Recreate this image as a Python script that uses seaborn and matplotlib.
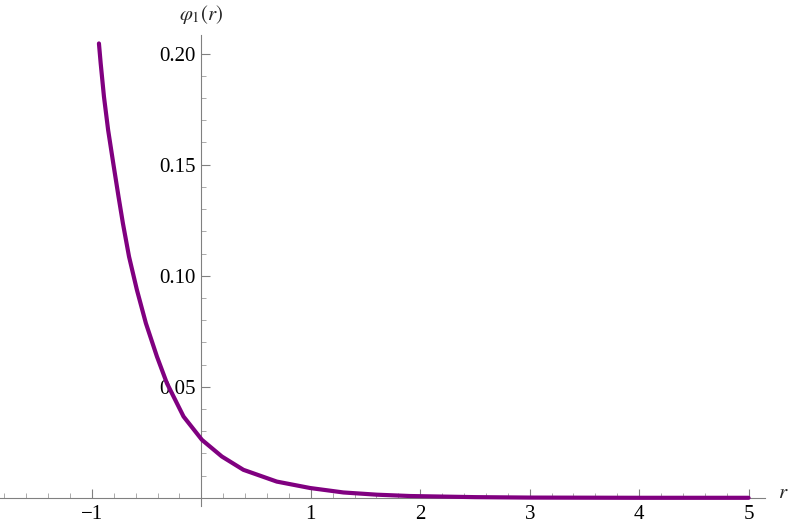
import numpy as np
import pandas as pd
import matplotlib
matplotlib.use('Agg')
import matplotlib.pyplot as plt
import seaborn as sns
from matplotlib.ticker import FixedLocator, MultipleLocator

# values
r_vals = [-0.936, -0.920, -0.890, -0.852, -0.805, -0.757, -0.717, -0.661,
          -0.589, -0.507, -0.406, -0.315, -0.163, 0.005, 0.187, 0.384,
          0.689, 0.994, 1.298, 1.603, 1.907, 2.5, 3.0, 4.0, 5.0]
phi_vals = [0.2046, 0.1956, 0.1806, 0.1656, 0.1506, 0.1356, 0.1236, 0.1086,
            0.0936, 0.0786, 0.0636, 0.0516, 0.0366, 0.0261, 0.0186, 0.0126,
            0.0073, 0.0044, 0.0024, 0.0014, 0.0008, 0.0003, 0.0001, 0.0, 0.0]

x_major = [-1, 1, 2, 3, 4, 5]
x_labels = ['\u22121', '1', '2', '3', '4', '5']
y_major = [0.05, 0.10, 0.15, 0.20]
y_labels = ['0.05', '0.10', '0.15', '0.20']

sns.set_style('white')
plt.rcParams['font.family'] = ['Liberation Serif', 'DejaVu Serif']
plt.rcParams['mathtext.fontset'] = 'stix'

W, H = 790, 524
fig = plt.figure(figsize=(W / 100, H / 100), dpi=100)
ax = fig.add_axes([0, 0, 765 / W, (H - 35) / H])

df = pd.DataFrame({'r': r_vals, 'phi': phi_vals})
sns.lineplot(data=df, x='r', y='phi', ax=ax, sort=False, color='#800080',
             linewidth=3.0, zorder=5)

ax.set_xlim(-1.84, 5.15)
ax.set_ylim(-0.0118, 0.2084)

for s in ['top', 'right']:
    ax.spines[s].set_visible(False)
ax.spines['left'].set_position(('data', 0))
ax.spines['bottom'].set_position(('data', 0))
ax.spines['left'].set_bounds(-0.0036, 0.2084)
for s in ['left', 'bottom']:
    ax.spines[s].set_color('#808080')
    ax.spines[s].set_linewidth(0.8)

ax.xaxis.set_major_locator(FixedLocator(x_major))
ax.set_xticklabels(x_labels)
ax.xaxis.set_minor_locator(MultipleLocator(0.2))
ax.yaxis.set_major_locator(FixedLocator(y_major))
ax.set_yticklabels(y_labels)
y_minor = [i / 100 for i in range(1, 21) if i % 5 != 0]
ax.yaxis.set_minor_locator(FixedLocator(y_minor))

ax.tick_params(which='major', direction='in', length=6.5, width=0.8,
               color='#808080', labelsize=15, labelcolor='black')
ax.tick_params(which='minor', direction='in', length=3.6, width=0.7,
               color='#aaaaaa')
ax.tick_params(axis='x', which='major', pad=5)
ax.tick_params(axis='y', which='major', pad=4)
ax.tick_params(left=True, bottom=True, which='both')

ax.set_xlabel('')
ax.set_ylabel('')
ax.grid(False)

fig.text(201 / W, 1 - 15 / H, r'$\varphi_1(r)$', ha='center', va='center',
         fontsize=15)
fig.text(783 / W, 1 - 494 / H, r'$r$', ha='center', va='center', fontsize=15)

fig.savefig('out.png', dpi=100)
